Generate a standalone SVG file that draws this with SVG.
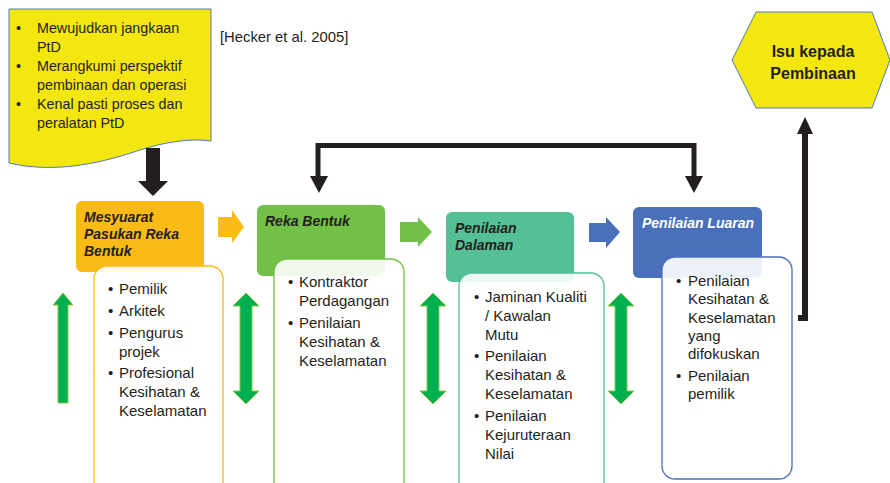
<svg xmlns="http://www.w3.org/2000/svg" width="890" height="483" viewBox="0 0 890 483">
<defs>
<style>
.t{font-family:"Liberation Sans",Arial,sans-serif;font-size:15px;fill:#231F20}
.ty{font-family:"Liberation Sans",Arial,sans-serif;font-size:14.3px;fill:#231F20}
.h{font-family:"Liberation Sans",Arial,sans-serif;font-size:14px;font-weight:bold;font-style:italic;fill:#231F20}
.card{fill:#fff;fill-opacity:0.9;stroke-width:1.3}
.dbl{fill:#00B050;stroke:#8CC63F;stroke-width:1}
.blk{fill:none;stroke:#231F20;stroke-width:5}
</style>
</defs>
<rect width="890" height="483" fill="#fff"/>

<g id="scope">
<path d="M9,9 H211 V141 C190,138 165,142 140,150 C110,160 60,175 9,163 Z" fill="#F4E60F" stroke="#4A7EBB" stroke-width="1"/>
<text class="ty"><tspan x="16" y="33">•</tspan><tspan x="37" y="33">Mewujudkan jangkaan</tspan></text>
<text class="ty" x="37" y="52">PtD</text>
<text class="ty"><tspan x="16" y="71">•</tspan><tspan x="37" y="71">Merangkumi perspektif</tspan></text>
<text class="ty" x="37" y="90">pembinaan dan operasi</text>
<text class="ty"><tspan x="16" y="109">•</tspan><tspan x="37" y="109">Kenal pasti proses dan</tspan></text>
<text class="ty" x="37" y="128">peralatan PtD</text>
</g>

<g id="ref">
<text class="ty" x="220" y="42" font-size="14.8" style="font-size:14.8px">[Hecker et al. 2005]</text>
</g>

<g id="issue">
<polygon points="732,60 756,12 872,12 890,60 872,108 756,108" fill="#F4E60F" stroke="#4A7EBB" stroke-width="1"/>
<text x="813" y="57" text-anchor="middle" font-family="Liberation Sans, Arial, sans-serif" font-size="16" font-weight="bold" fill="#231F20">Isu kepada</text>
<text x="813" y="79" text-anchor="middle" font-family="Liberation Sans, Arial, sans-serif" font-size="16" font-weight="bold" fill="#231F20">Pembinaan</text>
</g>

<g id="stage1">
<rect x="76" y="201" width="128" height="71" rx="6" fill="#FBBB16"/>
<text class="h" x="84" y="222">Mesyuarat</text>
<text class="h" x="84" y="239">Pasukan Reka</text>
<text class="h" x="84" y="256">Bentuk</text>
<rect class="card" x="94" y="266" width="129" height="230" rx="13" stroke="#FBBB16"/>
<text class="t"><tspan x="108" y="294">•</tspan><tspan x="119" y="294">Pemilik</tspan></text>
<text class="t"><tspan x="108" y="316">•</tspan><tspan x="119" y="316">Arkitek</tspan></text>
<text class="t"><tspan x="108" y="338">•</tspan><tspan x="119" y="338">Pengurus</tspan></text>
<text class="t" x="119" y="357">projek</text>
<text class="t"><tspan x="108" y="378">•</tspan><tspan x="119" y="378">Profesional</tspan></text>
<text class="t" x="119" y="397">Kesihatan &amp;</text>
<text class="t" x="119" y="416">Keselamatan</text>
</g>

<g id="stage2">
<rect x="257" y="205" width="128" height="71" rx="6" fill="#72C045"/>
<text class="h" x="265" y="226">Reka Bentuk</text>
<rect class="card" x="274" y="259" width="130" height="237" rx="13" stroke="#72C045"/>
<text class="t"><tspan x="288" y="287">•</tspan><tspan x="299" y="287">Kontraktor</tspan></text>
<text class="t" x="299" y="306">Perdagangan</text>
<text class="t"><tspan x="288" y="328">•</tspan><tspan x="299" y="328">Penilaian</tspan></text>
<text class="t" x="299" y="347">Kesihatan &amp;</text>
<text class="t" x="299" y="366">Keselamatan</text>
</g>

<g id="stage3">
<rect x="446" y="212" width="128" height="70" rx="6" fill="#55BF96"/>
<text class="h" x="455" y="233">Penilaian</text>
<text class="h" x="455" y="250">Dalaman</text>
<rect class="card" x="459" y="273" width="145" height="223" rx="13" stroke="#55BF96"/>
<text class="t"><tspan x="474" y="302">•</tspan><tspan x="485" y="302">Jaminan Kualiti</tspan></text>
<text class="t" x="485" y="321">/ Kawalan</text>
<text class="t" x="485" y="340">Mutu</text>
<text class="t"><tspan x="474" y="361">•</tspan><tspan x="485" y="361">Penilaian</tspan></text>
<text class="t" x="485" y="380">Kesihatan &amp;</text>
<text class="t" x="485" y="399">Keselamatan</text>
<text class="t"><tspan x="474" y="421">•</tspan><tspan x="485" y="421">Penilaian</tspan></text>
<text class="t" x="485" y="440">Kejuruteraan</text>
<text class="t" x="485" y="459">Nilai</text>
</g>

<g id="stage4">
<rect x="633" y="207" width="129" height="71" rx="6" fill="#4A70BA"/>
<text class="h" x="642" y="228" font-size="13.5" style="fill:#fff">Penilaian Luaran</text>
<rect class="card" x="662" y="257" width="130" height="222" rx="13" stroke="#4A70BA"/>
<text class="t"><tspan x="676" y="286">•</tspan><tspan x="688" y="286">Penilaian</tspan></text>
<text class="t" x="688" y="304">Kesihatan &amp;</text>
<text class="t" x="688" y="323">Keselamatan</text>
<text class="t" x="688" y="341">yang</text>
<text class="t" x="688" y="359">difokuskan</text>
<text class="t"><tspan x="676" y="381">•</tspan><tspan x="688" y="381">Penilaian</tspan></text>
<text class="t" x="688" y="399">pemilik</text>
</g>

<g id="connectors">
<polygon points="146,148 160,148 160,181 168,181 153,196 138,181 146,181" fill="#231F20"/>
<path class="blk" d="M318,177 V145.5 H694 V177"/>
<polygon points="310,176 328,176 319,193" fill="#231F20"/>
<polygon points="685,176 703,176 694,193" fill="#231F20"/>
<path d="M798,318 H805 V132" fill="none" stroke="#231F20" stroke-width="6"/>
<polygon points="797,134 813,134 805,117" fill="#231F20"/>
<polygon points="218,217 232,217 232,210 244,227 232,243 232,237 218,237" fill="#FBBB16"/>
<polygon points="400,222 418,222 418,217 432,232 418,247 418,242 400,242" fill="#72C045"/>
<polygon points="589,223 606,223 606,217 620,232 606,248 606,242 589,242" fill="#4A70BA"/>
<polygon class="dbl" points="58,403 58,305 53,305 63,293 73,305 68,305 68,403"/>
<polygon class="dbl" points="246,293 259,306 252,306 252,391 259,391 246,404 233,391 240,391 240,306 233,306"/>
<polygon class="dbl" points="433,293 446,306 439,306 439,391 446,391 433,404 420,391 427,391 427,306 420,306"/>
<polygon class="dbl" points="621,293 634,306 627,306 627,391 634,391 621,404 608,391 615,391 615,306 608,306"/>
</g>
</svg>
